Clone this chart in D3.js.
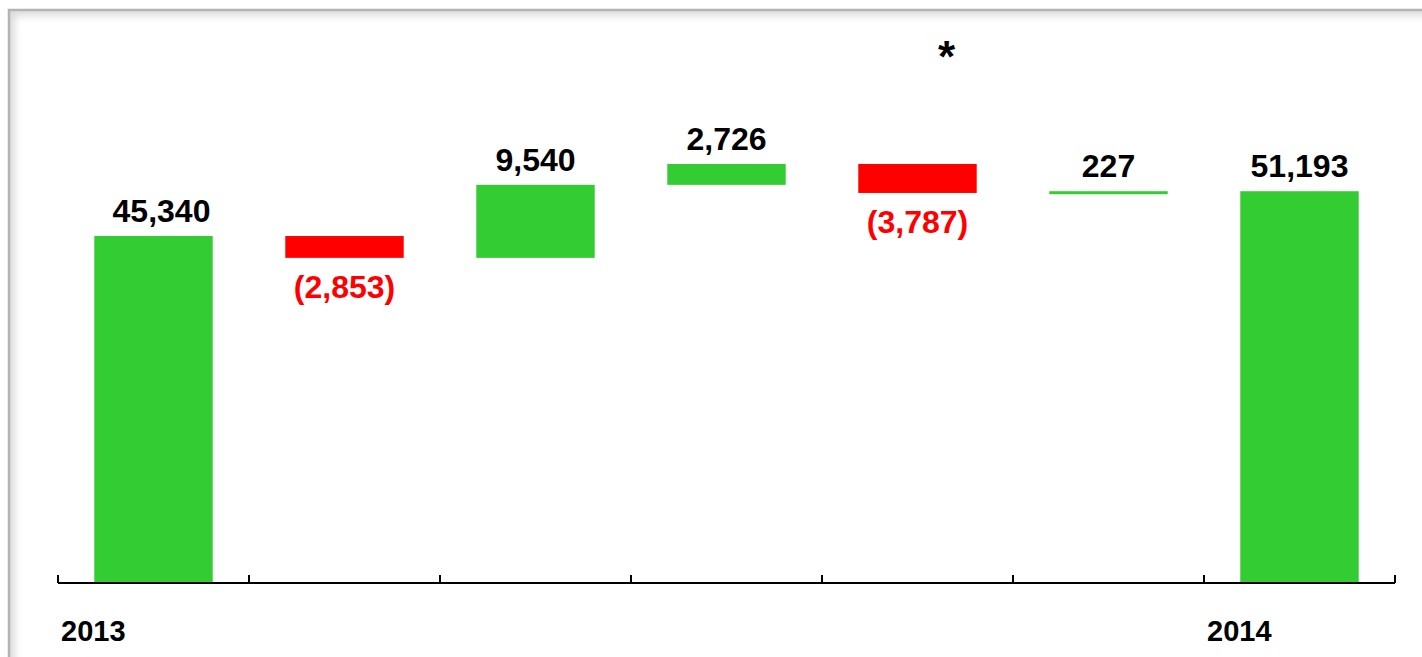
<!DOCTYPE html>
<html>
<head>
<meta charset="utf-8">
<script src="https://cdn.jsdelivr.net/npm/d3@7"></script>
<style>
  body { margin: 0; background: #fff; }
  svg { display: block; font-family: "Liberation Sans", Arial, sans-serif; font-weight: bold; }
</style>
</head>
<body>
<svg width="1422" height="657"></svg>
<script>
// data
var categories = ["2013", "", "", "", "", "", "2014"];
var values = [45340, -2853, 9540, 2726, -3787, 227, 51193];
var isTotal = [true, false, false, false, false, false, true];
var note = "*";

var svg = d3.select("svg"),
  width = +svg.attr("width"),
  height = +svg.attr("height");

// frame with soft inner shadow
var defs = svg.append("defs");
defs.append("clipPath").attr("id", "inside")
  .append("rect").attr("x", 10).attr("y", 11).attr("width", 2000).attr("height", 2000);
defs.append("filter").attr("id", "blur")
  .attr("x", "-5%").attr("y", "-5%").attr("width", "110%").attr("height", "110%")
  .append("feGaussianBlur").attr("stdDeviation", 4);
svg.append("g").attr("clip-path", "url(#inside)")
  .append("rect")
    .attr("x", 9).attr("y", 10).attr("width", 2000).attr("height", 2000)
    .attr("fill", "none").attr("stroke", "#d6d6d6").attr("stroke-width", 10)
    .attr("filter", "url(#blur)");
svg.append("rect")
  .attr("x", 9).attr("y", 10).attr("width", 2000).attr("height", 2000)
  .attr("fill", "none").attr("stroke", "#b4b4b4").attr("stroke-width", 2.5);

// scales
var x = d3.scaleBand()
  .domain(d3.range(categories.length))
  .range([58, 1395])
  .padding(0);

var y = d3.scaleLinear()
  .domain([0, 70000])
  .range([583, 47.3]);

// running totals for the waterfall
var steps = [];
var run = 0;
values.forEach(function(v, i) {
  if (isTotal[i]) { steps.push({i: i, v: v, y0: 0, y1: v}); run = v; }
  else { steps.push({i: i, v: v, y0: run, y1: run + v}); run += v; }
});

var barW = x.bandwidth() * 0.62;
var fmt = d3.format(",");

svg.append("g")
  .selectAll("rect")
  .data(steps)
  .enter()
  .append("rect")
    .attr("x", function(d) { return x(d.i) + (x.bandwidth() - barW) / 2; })
    .attr("width", barW)
    .attr("y", function(d) { return y(Math.max(d.y0, d.y1)); })
    .attr("height", function(d) { return Math.max(3, Math.abs(y(d.y0) - y(d.y1))); })
    .attr("fill", function(d) { return d.v < 0 ? "#ff0000" : "#33cc33"; });

// value labels
svg.append("g")
  .selectAll("text")
  .data(steps)
  .enter()
  .append("text")
    .attr("x", function(d) { return x(d.i) + x.bandwidth() / 2 + (d.i == 0 ? 8 : 0); })
    .attr("y", function(d) {
      return d.v < 0 ? y(Math.min(d.y0, d.y1)) + 40 : y(Math.max(d.y0, d.y1)) - 14;
    })
    .attr("text-anchor", "middle")
    .attr("font-size", 32)
    .attr("fill", function(d) { return d.v < 0 ? "#ff0000" : "#000"; })
    .text(function(d) { return d.v < 0 ? "(" + fmt(-d.v) + ")" : fmt(d.v); });

// axis along the bottom
var axis = svg.append("g").attr("transform", "translate(0,583)");
axis.append("line")
  .attr("x1", 58).attr("x2", 1395)
  .attr("stroke", "#000").attr("stroke-width", 2);
axis.selectAll(".tick")
  .data(d3.range(categories.length + 1))
  .enter()
  .append("line")
    .attr("x1", function(d) { return d < categories.length ? x(d) : x.range()[1]; })
    .attr("x2", function(d) { return d < categories.length ? x(d) : x.range()[1]; })
    .attr("y1", 0).attr("y2", -8)
    .attr("stroke", "#000").attr("stroke-width", 2);

axis.selectAll(".cat")
  .data(categories)
  .enter()
  .append("text")
    .attr("x", function(d, i) { return x(i) + 3; })
    .attr("y", 58)
    .attr("font-size", 29)
    .attr("fill", "#000")
    .text(function(d) { return d; });

// footnote marker
svg.append("text")
  .attr("x", x(4) + x.bandwidth() / 2 + 29)
  .attr("y", 72)
  .attr("text-anchor", "middle")
  .attr("font-size", 44)
  .text(note);
</script>
</body>
</html>
